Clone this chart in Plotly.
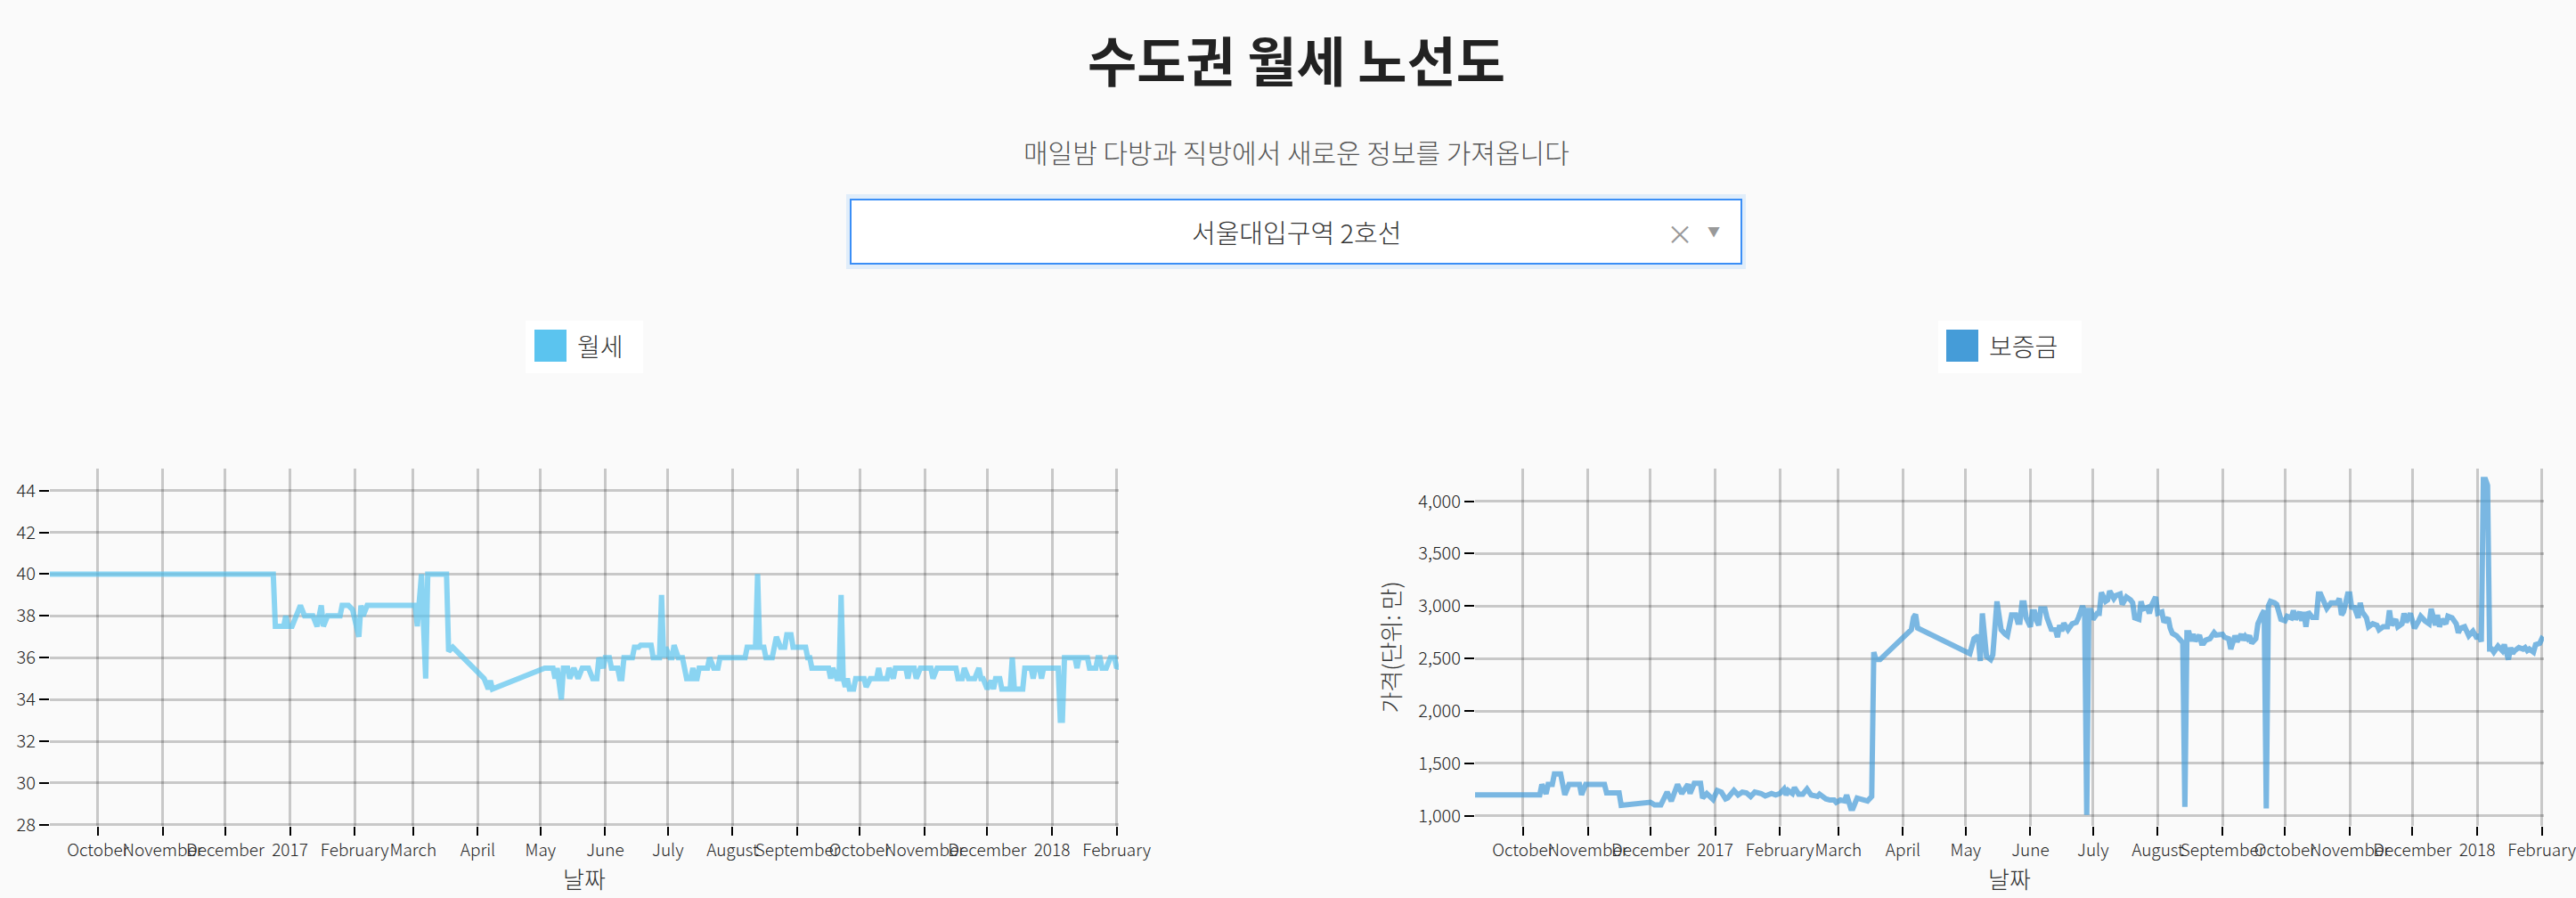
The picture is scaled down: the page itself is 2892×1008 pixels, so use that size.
import plotly.graph_objects as go

W, H = 2892, 1008

# ---------------- data ----------------
wolse_dates = [
    "2016-09-08", "2016-12-24", "2016-12-25", "2016-12-29", "2016-12-30", "2016-12-31",
    "2017-01-02", "2017-01-04", "2017-01-06", "2017-01-08", "2017-01-12", "2017-01-14",
    "2017-01-16", "2017-01-17", "2017-01-19", "2017-01-25", "2017-01-26", "2017-01-29",
    "2017-01-31", "2017-02-03", "2017-02-04", "2017-02-05", "2017-02-07", "2017-03-02",
    "2017-03-03", "2017-03-05", "2017-03-06", "2017-03-07", "2017-03-08", "2017-03-17",
    "2017-03-18", "2017-03-20", "2017-04-04", "2017-04-06", "2017-04-07", "2017-04-08",
    "2017-05-03", "2017-05-07", "2017-05-08", "2017-05-09", "2017-05-11", "2017-05-12",
    "2017-05-14", "2017-05-15", "2017-05-17", "2017-05-19", "2017-05-21", "2017-05-24",
    "2017-05-26", "2017-05-28", "2017-05-29", "2017-05-31", "2017-06-01", "2017-06-03",
    "2017-06-04", "2017-06-07", "2017-06-08", "2017-06-09", "2017-06-10", "2017-06-14",
    "2017-06-15", "2017-06-17", "2017-06-18", "2017-06-23", "2017-06-24", "2017-06-27",
    "2017-06-28", "2017-06-29", "2017-06-30", "2017-07-02", "2017-07-03", "2017-07-04",
    "2017-07-06", "2017-07-08", "2017-07-09", "2017-07-10", "2017-07-12", "2017-07-13",
    "2017-07-14", "2017-07-15", "2017-07-16", "2017-07-20", "2017-07-21", "2017-07-23",
    "2017-07-25", "2017-07-26", "2017-08-07", "2017-08-08", "2017-08-12", "2017-08-13",
    "2017-08-14", "2017-08-16", "2017-08-17", "2017-08-20", "2017-08-21", "2017-08-22",
    "2017-08-24", "2017-08-26", "2017-08-27", "2017-08-29", "2017-08-30", "2017-09-05",
    "2017-09-06", "2017-09-07", "2017-09-08", "2017-09-16", "2017-09-17", "2017-09-18",
    "2017-09-20", "2017-09-21", "2017-09-22", "2017-09-23", "2017-09-24", "2017-09-25",
    "2017-09-26", "2017-09-28", "2017-09-29", "2017-10-03", "2017-10-04", "2017-10-06",
    "2017-10-09", "2017-10-10", "2017-10-11", "2017-10-14", "2017-10-15", "2017-10-17",
    "2017-10-18", "2017-10-23", "2017-10-24", "2017-10-25", "2017-10-27", "2017-10-28",
    "2017-10-30", "2017-11-04", "2017-11-05", "2017-11-07", "2017-11-16", "2017-11-17",
    "2017-11-19", "2017-11-20", "2017-11-22", "2017-11-25", "2017-11-27", "2017-11-28",
    "2017-11-29", "2017-12-01", "2017-12-03", "2017-12-04", "2017-12-05", "2017-12-07",
    "2017-12-08", "2017-12-12", "2017-12-13", "2017-12-14", "2017-12-18", "2017-12-19",
    "2017-12-22", "2017-12-23", "2017-12-24", "2017-12-26", "2017-12-27", "2017-12-28",
    "2017-12-31", "2018-01-04", "2018-01-05", "2018-01-06", "2018-01-07", "2018-01-12",
    "2018-01-13", "2018-01-14", "2018-01-18", "2018-01-19", "2018-01-22", "2018-01-23",
    "2018-01-24", "2018-01-25", "2018-01-27", "2018-01-29", "2018-01-31", "2018-02-01",
    "2018-02-02",
]
wolse_values = [
    40, 40, 37.5, 37.5, 38, 37.5,
    37.5, 38, 38.5, 38, 38, 37.5,
    38.5, 37.5, 38, 38, 38.5, 38.5,
    38.3, 37, 38.5, 38, 38.5, 38.5,
    37.5, 40, 37.5, 35, 40, 40,
    36.3, 36.5, 35, 34.5, 34.9, 34.5,
    35.5, 35.5, 35, 35.5, 34, 35.5,
    35.5, 35, 35.5, 35, 35.5, 35.5,
    35, 35, 36, 35.5, 36, 36,
    35.5, 35.5, 35, 35, 36, 36,
    36.5, 36.5, 36.6, 36.6, 36, 36,
    39, 36, 36.5, 36, 36, 36.6,
    36, 36, 35.5, 35, 35, 35.5,
    35, 35, 35.5, 35.5, 36, 35.5,
    35.5, 36, 36, 36.5, 36.5, 40,
    36.5, 36.5, 36, 36, 36.5, 37,
    36.5, 36.5, 37.1, 37.1, 36.5, 36.5,
    36, 36, 35.5, 35.5, 35, 35.5,
    35, 35, 39, 35, 34.6, 35,
    34.5, 34.5, 35, 35, 34.6, 35,
    35, 35.5, 35, 35, 35.5, 35,
    35.5, 35.5, 35, 35.5, 35.5, 35,
    35.5, 35.5, 35, 35.5, 35.5, 35,
    35, 35.5, 35, 35, 35.5, 35,
    35, 34.5, 34.9, 34.5, 35, 35,
    34.5, 34.5, 36, 34.5, 34.5, 35.5,
    35.5, 35, 35.5, 35.5, 35, 35.5,
    35.5, 35.5, 33, 33, 36, 36,
    35.5, 36, 36, 35.5, 35.5, 36,
    36, 35.5, 35.5, 36, 36, 35.5,
    35.6,
]

deposit_dates = [
    "2016-09-08", "2016-10-09", "2016-10-10", "2016-10-12", "2016-10-13", "2016-10-15",
    "2016-10-16", "2016-10-19", "2016-10-20", "2016-10-21", "2016-10-23", "2016-10-28",
    "2016-10-29", "2016-10-31", "2016-11-09", "2016-11-10", "2016-11-16", "2016-11-17",
    "2016-12-01", "2016-12-03", "2016-12-06", "2016-12-09", "2016-12-11", "2016-12-14",
    "2016-12-16", "2016-12-19", "2016-12-20", "2016-12-22", "2016-12-25", "2016-12-26",
    "2016-12-28", "2016-12-30", "2016-12-31", "2017-01-02", "2017-01-04", "2017-01-06",
    "2017-01-07", "2017-01-10", "2017-01-12", "2017-01-14", "2017-01-16", "2017-01-18",
    "2017-01-20", "2017-01-23", "2017-01-25", "2017-01-28", "2017-01-30", "2017-02-01",
    "2017-02-03", "2017-02-04", "2017-02-05", "2017-02-07", "2017-02-08", "2017-02-10",
    "2017-02-12", "2017-02-14", "2017-02-16", "2017-02-18", "2017-02-19", "2017-02-20",
    "2017-02-22", "2017-02-23", "2017-02-25", "2017-02-27", "2017-02-28", "2017-03-02",
    "2017-03-04", "2017-03-05", "2017-03-07", "2017-03-08", "2017-03-10", "2017-03-13",
    "2017-03-15", "2017-03-17", "2017-03-18", "2017-03-19", "2017-03-21", "2017-04-05",
    "2017-04-06", "2017-04-07", "2017-04-08", "2017-05-03", "2017-05-05", "2017-05-07",
    "2017-05-08", "2017-05-09", "2017-05-11", "2017-05-13", "2017-05-14", "2017-05-16",
    "2017-05-18", "2017-05-20", "2017-05-21", "2017-05-23", "2017-05-25", "2017-05-26",
    "2017-05-27", "2017-05-28", "2017-05-29", "2017-05-30", "2017-06-01", "2017-06-02",
    "2017-06-03", "2017-06-04", "2017-06-05", "2017-06-06", "2017-06-08", "2017-06-09",
    "2017-06-11", "2017-06-13", "2017-06-14", "2017-06-15", "2017-06-16", "2017-06-17",
    "2017-06-19", "2017-06-21", "2017-06-23", "2017-06-24", "2017-06-26", "2017-06-27",
    "2017-06-28", "2017-06-29", "2017-06-30", "2017-07-01", "2017-07-03", "2017-07-04",
    "2017-07-05", "2017-07-07", "2017-07-08", "2017-07-09", "2017-07-11", "2017-07-12",
    "2017-07-14", "2017-07-15", "2017-07-17", "2017-07-19", "2017-07-20", "2017-07-21",
    "2017-07-23", "2017-07-24", "2017-07-25", "2017-07-27", "2017-07-28", "2017-07-29",
    "2017-07-31", "2017-08-01", "2017-08-03", "2017-08-04", "2017-08-05", "2017-08-06",
    "2017-08-07", "2017-08-08", "2017-08-10", "2017-08-12", "2017-08-13", "2017-08-14",
    "2017-08-15", "2017-08-16", "2017-08-17", "2017-08-18", "2017-08-19", "2017-08-21",
    "2017-08-22", "2017-08-23", "2017-08-24", "2017-08-26", "2017-08-28", "2017-08-29",
    "2017-09-01", "2017-09-02", "2017-09-04", "2017-09-05", "2017-09-07", "2017-09-08",
    "2017-09-10", "2017-09-11", "2017-09-12", "2017-09-13", "2017-09-14", "2017-09-15",
    "2017-09-17", "2017-09-18", "2017-09-19", "2017-09-20", "2017-09-21", "2017-09-22",
    "2017-09-23", "2017-09-24", "2017-09-26", "2017-09-27", "2017-09-29", "2017-10-01",
    "2017-10-02", "2017-10-04", "2017-10-05", "2017-10-06", "2017-10-08", "2017-10-09",
    "2017-10-10", "2017-10-11", "2017-10-12", "2017-10-14", "2017-10-16", "2017-10-17",
    "2017-10-18", "2017-10-20", "2017-10-21", "2017-10-23", "2017-10-26", "2017-10-27",
    "2017-10-28", "2017-10-29", "2017-10-31", "2017-11-01", "2017-11-02", "2017-11-03",
    "2017-11-05", "2017-11-06", "2017-11-07", "2017-11-09", "2017-11-10", "2017-11-12",
    "2017-11-14", "2017-11-15", "2017-11-17", "2017-11-19", "2017-11-20", "2017-11-21",
    "2017-11-23", "2017-11-24", "2017-11-26", "2017-11-27", "2017-11-28", "2017-11-30",
    "2017-12-02", "2017-12-04", "2017-12-05", "2017-12-07", "2017-12-09", "2017-12-10",
    "2017-12-12", "2017-12-13", "2017-12-14", "2017-12-15", "2017-12-17", "2017-12-18",
    "2017-12-20", "2017-12-22", "2017-12-23", "2017-12-24", "2017-12-26", "2017-12-28",
    "2017-12-30", "2018-01-01", "2018-01-02", "2018-01-03", "2018-01-04", "2018-01-05",
    "2018-01-06", "2018-01-07", "2018-01-08", "2018-01-09", "2018-01-11", "2018-01-13",
    "2018-01-14", "2018-01-16", "2018-01-17", "2018-01-18", "2018-01-19", "2018-01-21",
    "2018-01-23", "2018-01-24", "2018-01-25", "2018-01-26", "2018-01-28", "2018-01-29",
    "2018-01-31", "2018-02-01", "2018-02-02",
]
deposit_values = [
    1200, 1200, 1300, 1210, 1300, 1300,
    1400, 1400, 1300, 1200, 1300, 1300,
    1200, 1300, 1300, 1220, 1220, 1100,
    1130, 1105, 1105, 1227, 1140, 1300,
    1213, 1300, 1213, 1310, 1310, 1170,
    1213, 1185, 1156, 1242, 1227, 1162,
    1170, 1242, 1199, 1227, 1219, 1185,
    1227, 1213, 1190, 1213, 1199, 1213,
    1256, 1199, 1242, 1213, 1270, 1207,
    1207, 1256, 1199, 1190, 1185, 1207,
    1170, 1162, 1151, 1151, 1128, 1151,
    1142, 1199, 1071, 1071, 1170, 1156,
    1142, 1185, 2561, 2490, 2490, 2775,
    2890, 2920, 2790, 2547, 2689, 2717,
    2476, 2930, 2519, 2490, 2533, 3044,
    2774, 2731, 2717, 2916, 2916, 2845,
    2845, 3030, 3030, 2887, 2802, 2944,
    2944, 2859, 2817, 2973, 2973, 2887,
    2780, 2774, 2703, 2817, 2760, 2836,
    2774, 2831, 2845, 2887, 3001, 2944,
    1010, 2958, 2958, 2873, 2930, 2930,
    3129, 3044, 3058, 3143, 3072, 3100,
    3115, 3015, 3086, 3058, 3030, 2887,
    2873, 3044, 2973, 2987, 2930, 3007,
    3086, 2930, 2944, 2845, 2873, 2887,
    2788, 2740, 2717, 2666, 2650, 1085,
    2746, 2746, 2666, 2731, 2666, 2723,
    2646, 2646, 2675, 2689, 2746, 2723,
    2731, 2703, 2689, 2590, 2717, 2660,
    2731, 2675, 2712, 2689, 2717, 2646,
    2689, 2831, 2887, 2922, 2958, 1071,
    3001, 3044, 3030, 3015, 2873, 2859,
    2902, 2887, 2958, 2873, 2944, 2859,
    2944, 2802, 2944, 2893, 2893, 3115,
    3115, 3030, 2978, 3030, 3030, 3072,
    2916, 2944, 3115, 3115, 2973, 3001,
    2887, 3030, 2944, 2887, 2802, 2831,
    2817, 2774, 2802, 2802, 2958, 2817,
    2873, 2802, 2831, 2930, 2845, 2930,
    2788, 2859, 2902, 2859, 2831, 2973,
    2817, 2916, 2802, 2873, 2831, 2902,
    2887, 2831, 2746, 2788, 2802, 2717,
    2760, 2689, 2731, 2660, 4207, 4207,
    4150, 2590, 2590, 2561, 2618, 2575,
    2632, 2490, 2604, 2547, 2575, 2604,
    2590, 2604, 2575, 2590, 2561, 2632,
    2646, 2689, 2675,
]

tick_dates = [
    "2016-10-01", "2016-11-01", "2016-12-01", "2017-01-01", "2017-02-01", "2017-03-01",
    "2017-04-01", "2017-05-01", "2017-06-01", "2017-07-01", "2017-08-01", "2017-09-01",
    "2017-10-01", "2017-11-01", "2017-12-01", "2018-01-01", "2018-02-01",
]
tick_labels = [
    "October", "November", "December", "2017", "February", "March",
    "April", "May", "June", "July", "August", "September",
    "October", "November", "December", "2018", "February",
]

series_names = ["월세", "보증금"]
series_colors = ["#5bc4ef", "#459cd8"]

# ---------------- helpers (layout only) ----------------
def px(x):
    return x / W

def py(y):
    return 1 - y / H

FONT = "Noto Sans CJK KR, Noto Sans, sans-serif"
BG = "#fafafa"
GRID = "rgba(0,0,0,0.2)"

fig = go.Figure()
fig.add_trace(go.Scatter(
    x=wolse_dates, y=wolse_values, mode="lines", name=series_names[0],
    line=dict(color=series_colors[0], width=6), opacity=0.7,
    xaxis="x", yaxis="y", showlegend=False, hoverinfo="skip",
))
fig.add_trace(go.Scatter(
    x=deposit_dates, y=deposit_values, mode="lines", name=series_names[1],
    line=dict(color=series_colors[1], width=6), opacity=0.7,
    xaxis="x2", yaxis="y2", showlegend=False, hoverinfo="skip",
))

xtickfont = dict(family=FONT, size=19, color="#222", weight=300)
ytickfont = dict(family=FONT, size=20, color="#222", weight=300)
common_x = dict(
    type="date", tickmode="array", tickvals=tick_dates, ticktext=tick_labels,
    tickangle=0, automargin=False, ticklabeloverflow="allow",
    ticks="outside", ticklen=10, tickwidth=2, tickcolor="#000",
    showgrid=True, gridcolor=GRID, gridwidth=2.5,
    showline=False, zeroline=False, tickfont=xtickfont,
    title=dict(text="날짜", font=dict(family=FONT, size=26, color="#333", weight=300), standoff=14),
    fixedrange=True,
)
common_y = dict(
    ticks="outside", ticklen=11, tickwidth=2, tickcolor="#000", automargin=False,
    showgrid=True, gridcolor=GRID, gridwidth=3,
    showline=False, zeroline=False, tickfont=ytickfont, fixedrange=True,
)

y_dom = [py(927), py(526)]
fig.update_layout(
    width=W, height=H, autosize=False,
    margin=dict(l=0, r=0, t=0, b=0, pad=0),
    paper_bgcolor=BG, plot_bgcolor=BG,
    font=dict(family=FONT),
    showlegend=False,
    xaxis=dict(common_x, domain=[px(56), px(1256)], anchor="y",
               range=[min(wolse_dates), max(wolse_dates)]),
    yaxis=dict(common_y, domain=y_dom, anchor="x", range=[27.95, 45.05],
               tick0=28, dtick=2),
    xaxis2=dict(common_x, domain=[px(1656), px(2856)], anchor="y2",
                range=[min(deposit_dates), max(deposit_dates)]),
    yaxis2=dict(common_y, domain=y_dom, anchor="x2", range=[905, 4310],
                tick0=1000, dtick=500, tickformat=",d",
                title=dict(text="가격(단위: 만)", font=dict(family=FONT, size=26, color="#333", weight=300), standoff=12)),
)

shapes = []
annotations = []

# title + subtitle
annotations.append(dict(text="<b>수도권 월세 노선도</b>", x=px(1455), y=py(65), xref="paper", yref="paper",
                        showarrow=False, font=dict(family=FONT, size=60, color="#222"),
                        xanchor="center", yanchor="middle"))
annotations.append(dict(text="매일밤 다방과 직방에서 새로운 정보를 가져옵니다", x=px(1455), y=py(170),
                        xref="paper", yref="paper", showarrow=False,
                        font=dict(family=FONT, size=30, color="#555", weight=300),
                        xanchor="center", yanchor="middle"))

# dropdown (static picture of the selector)
shapes.append(dict(type="rect", xref="paper", yref="paper", x0=px(950), x1=px(1960), y0=py(302), y1=py(218),
                   fillcolor="rgba(0,126,255,0.1)", line=dict(width=0), layer="below"))
shapes.append(dict(type="rect", xref="paper", yref="paper", x0=px(955), x1=px(1955), y0=py(296), y1=py(224),
                   fillcolor="#ffffff", line=dict(color="#3a8ef6", width=2), layer="below"))
annotations.append(dict(text="서울대입구역 2호선", x=px(1455), y=py(260), xref="paper", yref="paper",
                        showarrow=False, font=dict(family=FONT, size=29, color="#333", weight=300),
                        xanchor="center", yanchor="middle"))
annotations.append(dict(text="×", x=px(1886), y=py(261), xref="paper", yref="paper", showarrow=False,
                        font=dict(family=FONT, size=30, color="#999"), xanchor="center", yanchor="middle"))
annotations.append(dict(text="▼", x=px(1924), y=py(259), xref="paper", yref="paper", showarrow=False,
                        font=dict(family=FONT, size=14, color="#999"), xanchor="center", yanchor="middle"))

# legend boxes
legend_boxes = [(590, 722, 600, series_names[0], series_colors[0]),
                (2176, 2337, 2185, series_names[1], series_colors[1])]
for bx0, bx1, sx, name, col in legend_boxes:
    shapes.append(dict(type="rect", xref="paper", yref="paper", x0=px(bx0), x1=px(bx1), y0=py(419), y1=py(360),
                       fillcolor="#ffffff", line=dict(width=0), layer="below"))
    shapes.append(dict(type="rect", xref="paper", yref="paper", x0=px(sx), x1=px(sx + 36), y0=py(406), y1=py(370),
                       fillcolor=col, line=dict(width=0), layer="below"))
    annotations.append(dict(text=name, x=px(sx + 46), y=py(388), xref="paper", yref="paper", showarrow=False,
                            font=dict(family=FONT, size=28, color="#333", weight=300),
                            xanchor="left", yanchor="middle"))

fig.update_layout(shapes=shapes, annotations=annotations)
fig.write_html("out.html", include_plotlyjs=True, config={"displayModeBar": False})
